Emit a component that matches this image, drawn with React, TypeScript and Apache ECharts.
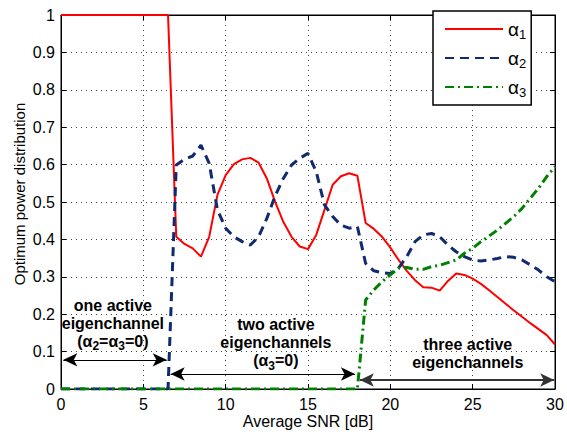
import React, { useEffect, useRef } from "react";
import * as echarts from "echarts";

const snr: number[] = [
  0, 0.5, 1, 1.5, 2, 2.5, 3, 3.5, 4, 4.5, 5, 5.5, 6, 6.5,
  7, 7.5, 8, 8.5, 9, 9.5, 10, 10.5, 11, 11.5, 12, 12.5, 13, 13.5, 14, 14.5,
  15, 15.5, 16, 16.5, 17, 17.5, 18, 18.5, 19, 19.5, 20, 20.5, 21, 21.5, 22, 22.5,
  23, 23.5, 24, 24.5, 25, 25.5, 26, 26.5, 27, 27.5, 28, 28.5, 29, 29.5, 30,
];

const alpha1: number[] = [
  1, 1, 1, 1, 1, 1, 1, 1, 1, 1, 1, 1, 1, 1,
  0.407, 0.388, 0.376, 0.354, 0.407, 0.519, 0.572, 0.601, 0.614, 0.618, 0.605, 0.563, 0.501, 0.447, 0.407, 0.381,
  0.374, 0.412, 0.479, 0.546, 0.569, 0.577, 0.57, 0.444, 0.428, 0.407, 0.378, 0.345, 0.316, 0.291, 0.272, 0.271,
  0.263, 0.289, 0.309, 0.305, 0.295, 0.281, 0.264, 0.246, 0.228, 0.21, 0.193, 0.176, 0.16, 0.144, 0.119,
];

const alpha2: number[] = [
  0, 0, 0, 0, 0, 0, 0, 0, 0, 0, 0, 0, 0, 0,
  0.599, 0.614, 0.623, 0.652, 0.603, 0.479, 0.43, 0.407, 0.394, 0.385, 0.407, 0.456, 0.516, 0.563, 0.599, 0.617,
  0.63, 0.581, 0.492, 0.461, 0.438, 0.43, 0.434, 0.336, 0.316, 0.311, 0.309, 0.323, 0.354, 0.394, 0.412, 0.416,
  0.407, 0.385, 0.367, 0.354, 0.345, 0.342, 0.345, 0.349, 0.354, 0.352, 0.345, 0.332, 0.318, 0.3, 0.287,
];

const alpha3: number[] = [
  0, 0, 0, 0, 0, 0, 0, 0, 0, 0, 0, 0, 0, 0,
  0, 0, 0, 0, 0, 0, 0, 0, 0, 0, 0, 0, 0, 0, 0, 0,
  0, 0, 0, 0, 0, 0, 0, 0.238, 0.265, 0.287, 0.305, 0.323, 0.325, 0.32, 0.32, 0.327,
  0.331, 0.338, 0.345, 0.363, 0.376, 0.394, 0.409, 0.425, 0.443, 0.461, 0.483, 0.51, 0.537, 0.568, 0.594,
];

const seriesNames = ["α1", "α2", "α3"];
const xTicks = [0, 5, 10, 15, 20, 25, 30];

const FONT = "'Liberation Sans', Arial, Helvetica, sans-serif";

const pairs = (ys: number[]) => snr.map((x, i) => [x, ys[i]]);

export default function App() {
  const ref = useRef<HTMLDivElement>(null);
  useEffect(() => {
    if (!ref.current) return;
    const chart = echarts.init(ref.current, undefined, { renderer: "svg" });
    const annRich = {
      b: { fontFamily: FONT, fontWeight: "bold", fontSize: 16, color: "#000", lineHeight: 18 },
      s: { fontFamily: FONT, fontWeight: "bold", fontSize: 12, color: "#000", lineHeight: 8, padding: [10, 0, 0, 0] },
    };
    const axisCommon = {
      axisLine: { show: true, onZero: false, lineStyle: { color: "#000", width: 1 } },
      axisTick: { show: true, inside: true, length: 5, lineStyle: { color: "#000" } },
    };
    chart.setOption({
      animation: false,
      backgroundColor: "#fff",
      grid: {
        left: 61, right: 12, top: 15, bottom: 43,
        outerBoundsMode: "none",
        containLabel: false,
        show: true, borderColor: "#000", borderWidth: 1, backgroundColor: "#fff",
      },
      legend: {
        data: seriesNames,
        orient: "vertical",
        left: 433,
        top: 11,
        padding: [6, 5, 6, 11],
        itemWidth: 58,
        itemHeight: 20,
        itemGap: 5,
        backgroundColor: "#fff",
        borderColor: "#000",
        borderWidth: 1.5,
        borderRadius: 0,
        itemStyle: { opacity: 0 },
        formatter: (name: string) => `{a|${name.slice(0, 1)}}{s|${name.slice(1)}}`,
        textStyle: {
          fontFamily: FONT,
          lineHeight: 20,
          rich: {
            a: { fontFamily: FONT, fontSize: 19, color: "#000", lineHeight: 20 },
            s: { fontFamily: FONT, fontSize: 13, color: "#000", lineHeight: 8, padding: [11, 0, 0, 0] },
          },
        },
      },
      xAxis: [
        {
          type: "value",
          min: 0,
          max: 30,
          interval: 5,
          name: "Average SNR [dB]",
          nameLocation: "middle",
          nameGap: 24,
          nameMoveOverlap: false,
          nameTextStyle: { fontFamily: FONT, fontSize: 16, color: "#000" },
          ...axisCommon,
          axisLabel: { fontFamily: FONT, fontSize: 16, color: "#000", margin: 7, formatter: (v: number) => (xTicks.includes(v) ? String(v) : "") },
          splitLine: { show: true, lineStyle: { color: "#444", type: [1, 4], width: 1 } },
        },
        {
          type: "value",
          position: "top",
          min: 0,
          max: 30,
          interval: 5,
          ...axisCommon,
          axisLabel: { show: false },
          splitLine: { show: false },
        },
      ],
      yAxis: [
        {
          type: "value",
          min: 0,
          max: 1,
          interval: 0.1,
          name: "Optimum power distribution",
          nameLocation: "middle",
          nameGap: 34,
          nameMoveOverlap: false,
          nameTextStyle: { fontFamily: FONT, fontSize: 15, color: "#000", padding: [0, 0, 0, 16] },
          ...axisCommon,
          axisLabel: { fontFamily: FONT, fontSize: 16, color: "#000", margin: 6, formatter: (v: number) => String(Math.round(v * 10) / 10) },
          splitLine: { show: true, lineStyle: { color: "#444", type: [1, 4], width: 1 } },
        },
        {
          type: "value",
          position: "right",
          min: 0,
          max: 1,
          interval: 0.1,
          ...axisCommon,
          axisLabel: { show: false },
          splitLine: { show: false },
        },
      ],
      series: [
        {
          name: seriesNames[0],
          type: "line",
          data: pairs(alpha1),
          symbol: "none",
          color: "#ff0000",
          lineStyle: { color: "#ff0000", width: 2 },
          z: 3,
        },
        {
          name: seriesNames[1],
          type: "line",
          data: pairs(alpha2),
          symbol: "none",
          color: "#0f2a6e",
          lineStyle: { color: "#0f2a6e", width: 3, type: [9, 6] },
          z: 4,
        },
        {
          name: seriesNames[2],
          type: "line",
          data: pairs(alpha3),
          symbol: "none",
          color: "#008000",
          lineStyle: { color: "#008000", width: 3, type: [9, 4, 2, 4] },
          z: 5,
        },
        {
          name: "annotations",
          type: "line",
          data: [],
          z: 6,
          markLine: {
            silent: true,
            symbol: ["arrow", "arrow"],
            symbolSize: [10, 14],
            label: { show: false },
            lineStyle: { color: "#000", width: 1, type: "solid" },
            data: [
              [{ coord: [0.14, 0.078] }, { coord: [6.42, 0.078] }],
              [{ coord: [6.66, 0.04] }, { coord: [17.85, 0.04] }],
              [{ coord: [18.15, 0.024], lineStyle: { color: "#333", width: 2 } }, { coord: [29.95, 0.024] }],
            ],
          },
          markPoint: {
            silent: true,
            symbol: "rect",
            symbolSize: 1,
            itemStyle: { color: "rgba(0,0,0,0)" },
            label: { show: true, position: "inside", rich: annRich, align: "center" },
            data: [
              { coord: [3.15, 0.176], label: { formatter: "{b|one active}\n{b|eigenchannel}\n{b|(α}{s|2}{b|=α}{s|3}{b|=0)}" } },
              { coord: [13.05, 0.123], label: { formatter: "{b|two active}\n{b|eigenchannels}\n{b|(α}{s|3}{b|=0)}" } },
              { coord: [24.7, 0.094], label: { formatter: "{b|three active}\n{b|eigenchannels}" } },
            ],
          },
        },
      ],
    });
    return () => chart.dispose();
  }, []);
  return <div ref={ref} style={{ position: "fixed", left: 0, top: 0, width: 567, height: 432 }} />;
}
